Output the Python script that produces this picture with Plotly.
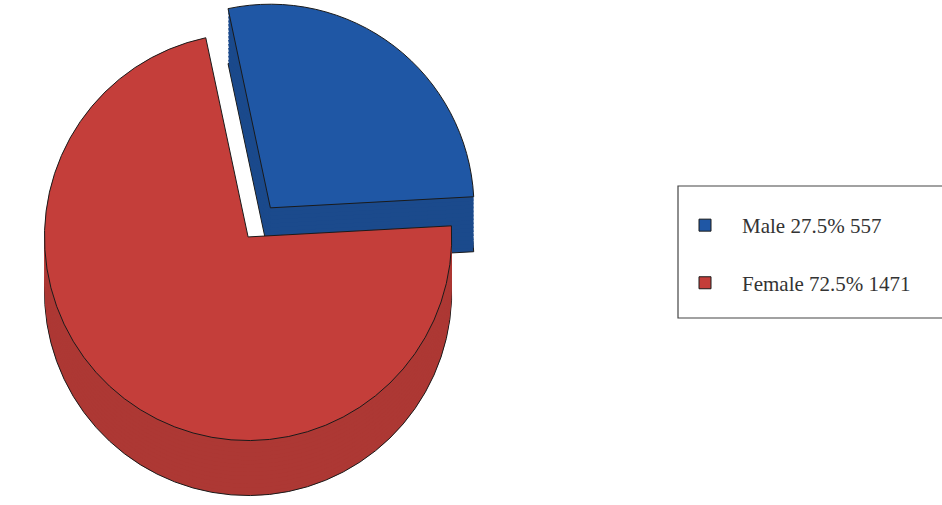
import plotly.graph_objects as go

categories = ["Male", "Female"]
counts = [557, 1471]
percents = [27.5, 72.5]
top_colors = ["#1f57a5", "#c43e3a"]
side_colors = ["#1b4a8c", "#ad3834"]
pulls = [0.1, 0.08]

W, H = 942, 505
cx, cy, half = 258, 224, 224
depth = 55
n_layers = 14
rot = -12

labels = [f"{c} {p:.1f}% {n}<br> " for c, p, n in zip(categories, percents, counts)]

def dom(offset):
    x0 = (cx - half) / W
    x1 = (cx + half) / W
    y_top = cy - half + offset
    y_bot = cy + half + offset
    return dict(x=[x0, x1], y=[max(0, 1 - y_bot / H), min(1, 1 - y_top / H)])

fig = go.Figure()
for i in range(n_layers, 0, -1):
    off = depth * i / n_layers
    fig.add_trace(go.Pie(
        labels=[f"{c} side{i}" for c in categories],
        values=counts,
        sort=False, direction="clockwise", rotation=rot,
        pull=pulls, domain=dom(off),
        marker=dict(colors=side_colors,
                    line=dict(color="#1a1a1a", width=1 if i == n_layers else 0)),
        textinfo="none", hoverinfo="skip", showlegend=False,
    ))

fig.add_trace(go.Pie(
    labels=labels, values=counts,
    sort=False, direction="clockwise", rotation=rot,
    pull=pulls, domain=dom(0),
    marker=dict(colors=top_colors, line=dict(color="#1a1a1a", width=1)),
    textinfo="none", hoverinfo="label",
))

fig.update_layout(
    width=W, height=H,
    margin=dict(l=0, r=0, t=0, b=0),
    paper_bgcolor="white", plot_bgcolor="white",
    showlegend=True,
    legend=dict(
        x=668 / W, y=1 - 205 / H, xanchor="left", yanchor="top",
        font=dict(family="Liberation Serif, Times New Roman, serif", size=21, color="#333333"),
        bgcolor="rgba(0,0,0,0)", borderwidth=0, valign="top",
        itemwidth=64,
        itemclick=False, itemdoubleclick=False,
    ),
    shapes=[dict(type="rect", xref="paper", yref="paper",
                 x0=678 / W, x1=950 / W, y0=1 - 318 / H, y1=1 - 186 / H,
                 line=dict(color="#444444", width=1.2), fillcolor="rgba(0,0,0,0)")],
)

fig.write_html("out.html")
